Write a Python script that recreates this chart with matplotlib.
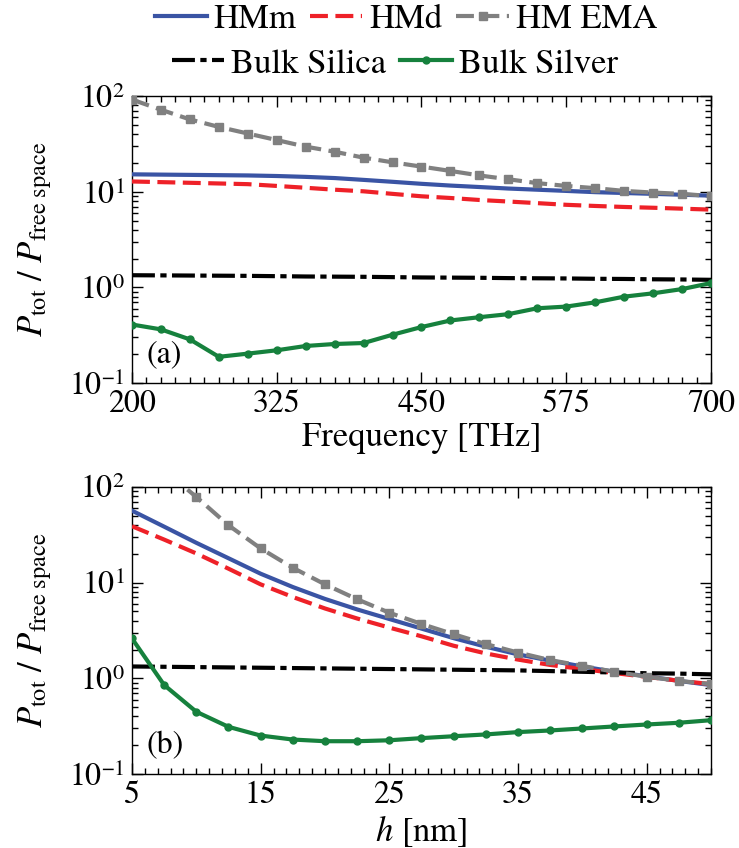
import matplotlib
matplotlib.use('Agg')
import matplotlib.pyplot as plt
from matplotlib.ticker import MultipleLocator, FixedLocator, LogLocator, NullFormatter
import numpy as np

plt.rcParams['font.family'] = ['TeX Gyre Termes', 'STIXGeneral', 'DejaVu Serif']
plt.rcParams['mathtext.fontset'] = 'stix'

# panel (a): vs frequency [THz]
freq = [200, 225, 250, 275, 300, 325, 350, 375, 400, 425, 450,
        475, 500, 525, 550, 575, 600, 625, 650, 675, 700]
a_hmm = [15.2, 15.1, 15.0, 14.9, 14.8, 14.6, 14.3, 13.9, 13.3, 12.7, 12.1,
         11.6, 11.2, 10.8, 10.5, 10.2, 9.9, 9.7, 9.5, 9.3, 9.1]
a_hmd = [12.8, 12.6, 12.4, 12.2, 12.0, 11.5, 11.0, 10.5, 10.1, 9.5, 8.96,
         8.6, 8.2, 7.9, 7.6, 7.3, 7.1, 6.93, 6.8, 6.65, 6.5]
a_ema = [92, 72, 57, 47.6, 40.6, 34.7, 29.6, 26.2, 22.7, 20.3, 18.3,
         16.5, 14.8, 13.5, 12.3, 11.5, 10.9, 10.2, 9.8, 9.5, 9.0]
a_silica = [1.34, 1.335, 1.33, 1.325, 1.32, 1.31, 1.30, 1.295, 1.29, 1.28, 1.27,
            1.265, 1.26, 1.25, 1.245, 1.24, 1.23, 1.225, 1.215, 1.21, 1.20]
a_silver = [0.409, 0.364, 0.286, 0.188, 0.203, 0.220, 0.244, 0.256, 0.262, 0.320, 0.385,
            0.451, 0.488, 0.525, 0.605, 0.630, 0.698, 0.80, 0.867, 0.96, 1.11]

# panel (b): vs h [nm]
h = [5, 7.5, 10, 12.5, 15, 17.5, 20, 22.5, 25, 27.5, 30,
     32.5, 35, 37.5, 40, 42.5, 45, 47.5, 50]
b_hmm = [56.6, 38.5, 26.1, 18.0, 12.4, 9.0, 6.76, 5.25, 4.17, 3.31, 2.63,
         2.14, 1.78, 1.53, 1.33, 1.17, 1.05, 0.94, 0.85]
b_hmd = [38.9, 28.2, 20.2, 14.0, 9.6, 7.08, 5.37, 4.22, 3.39, 2.75, 2.19,
         1.82, 1.57, 1.38, 1.25, 1.135, 1.035, 0.944, 0.87]
b_ema = [330, 150, 78.7, 39.8, 22.8, 14.3, 9.6, 6.7, 4.85, 3.7, 2.89,
         2.28, 1.86, 1.55, 1.35, 1.17, 1.04, 0.94, 0.87]
b_silica = [1.33, 1.32, 1.31, 1.30, 1.29, 1.28, 1.27, 1.26, 1.25, 1.24, 1.23,
            1.22, 1.21, 1.19, 1.17, 1.15, 1.13, 1.12, 1.10]
b_silver = [2.61, 0.851, 0.447, 0.311, 0.252, 0.229, 0.220, 0.220, 0.225, 0.237, 0.248,
            0.259, 0.274, 0.285, 0.299, 0.314, 0.329, 0.343, 0.365]

blue = '#3a54a4'
red = '#ee2128'
gray = '#808080'
green = '#16813d'
lw = 3

fig = plt.figure(figsize=(7.39, 8.48), dpi=100)
ax1 = fig.add_axes([0.1786, 0.5483, 0.7835, 0.3384])
ax2 = fig.add_axes([0.1786, 0.0873, 0.7835, 0.3384])


def draw(ax, x, hmm, hmd, ema, silica, silver):
    l1, = ax.plot(x, hmm, color=blue, lw=lw, label='HMm', zorder=3)
    l2, = ax.plot(x, hmd, color=red, lw=lw, dashes=(4.3, 1.8), label='HMd', zorder=3)
    l3, = ax.plot(x, ema, color=gray, lw=lw, dashes=(4.3, 1.8), marker='s', ms=6,
                  label='HM EMA', zorder=4)
    l4, = ax.plot(x, silica, color='black', lw=lw, dashes=(5.5, 1.3, 1.5, 1.3),
                  label='Bulk Silica', zorder=3)
    l5, = ax.plot(x, silver, color=green, lw=lw, marker='o', ms=5,
                  label='Bulk Silver', zorder=4)
    ax.set_yscale('log')
    ax.set_ylim(0.1, 100)
    ax.yaxis.set_major_locator(LogLocator(base=10, numticks=10))
    ax.yaxis.set_minor_locator(LogLocator(base=10, subs=np.arange(2, 10), numticks=20))
    ax.yaxis.set_minor_formatter(NullFormatter())
    ax.tick_params(which='both', direction='in', top=True, right=True,
                   labelsize=23, width=1.0)
    ax.tick_params(which='major', length=8, pad=5)
    ax.tick_params(which='minor', length=4.5)
    for s in ax.spines.values():
        s.set_linewidth(1.0)
    ax.set_ylabel(r'$P_{\mathrm{tot}}\ /\ P_{\mathrm{free\ space}}$', fontsize=25)
    ax.yaxis.set_label_coords(-0.135, 0.5)
    return [l1, l2, l3, l4, l5]


lines = draw(ax1, freq, a_hmm, a_hmd, a_ema, a_silica, a_silver)
ax1.set_xlim(200, 700)
ax1.xaxis.set_major_locator(FixedLocator([200, 325, 450, 575, 700]))
ax1.xaxis.set_minor_locator(MultipleLocator(12.5))
ax1.set_xlabel('Frequency [THz]', fontsize=25, labelpad=2)
ax1.text(0.025, 0.1, '(a)', transform=ax1.transAxes, fontsize=23, va='center', ha='left')

draw(ax2, h, b_hmm, b_hmd, b_ema, b_silica, b_silver)
ax2.set_xlim(5, 50)
ax2.xaxis.set_major_locator(FixedLocator([5, 15, 25, 35, 45]))
ax2.xaxis.set_minor_locator(MultipleLocator(1))
ax2.set_xlabel(r'$h$ [nm]', fontsize=25, labelpad=2)
ax2.text(0.025, 0.1, '(b)', transform=ax2.transAxes, fontsize=23, va='center', ha='left')

leg_kw = dict(frameon=False, fontsize=25, handlelength=1.5, handletextpad=0.2,
              columnspacing=0.4, numpoints=1, borderpad=0, borderaxespad=0)
fig.legend(handles=lines[:3], ncol=3, loc='center', bbox_to_anchor=(0.549, 0.977), **leg_kw)
fig.legend(handles=lines[3:], ncol=2, loc='center', bbox_to_anchor=(0.534, 0.924), **leg_kw)

plt.savefig('out.png', dpi=100)
